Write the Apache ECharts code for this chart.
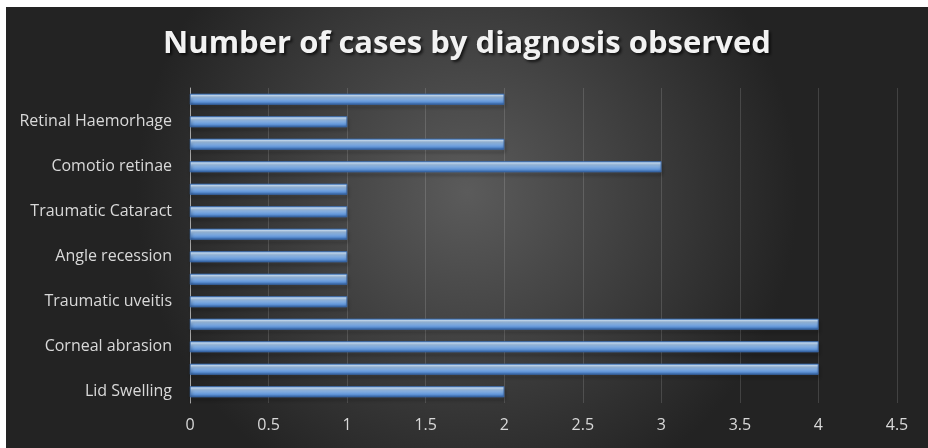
<!DOCTYPE html>
<html><head><meta charset="utf-8">
<script src="https://cdn.jsdelivr.net/npm/echarts@6/dist/echarts.min.js"></script>
<style>html,body{margin:0;padding:0;background:#fff;}#c{position:absolute;left:6px;top:7px;width:922px;height:441px;}</style>
</head><body><div id="c"></div>
<script>
const titleText = 'Number of cases by diagnosis observed';
const categories = ['Lid Swelling','Subconjunctival haemorrhage','Corneal abrasion','Hyphema','Traumatic uveitis','Traumatic mydriasis','Angle recession','Iridodialysis','Traumatic Cataract','Lens subluxation','Comotio retinae','Vitreous haemorrhage','Retinal Haemorhage','Globe rupture'];
const cases = [2,4,4,4,1,1,1,1,1,1,3,2,1,2];
const xTicks = {min:0,max:4.5,interval:0.5};

const chart = echarts.init(document.getElementById('c'));
chart.setOption({
  backgroundColor: {type:'radial',x:0.5,y:0.42,r:0.75,colorStops:[{offset:0,color:'#5b5b5b'},{offset:1,color:'#232323'}]},
  title:{text:titleText,left:'center',top:17,textStyle:{fontFamily:'Open Sans',fontWeight:'bold',fontSize:31,color:'#f2f2f2',textShadowColor:'rgba(0,0,0,0.7)',textShadowBlur:3,textShadowOffsetX:2,textShadowOffsetY:2}},
  grid:{left:184,right:31,top:81,bottom:45,containLabel:false},
  xAxis:{type:'value',min:xTicks.min,max:xTicks.max,interval:xTicks.interval,
    axisLine:{show:false},axisTick:{show:false},
    axisLabel:{color:'#d9d9d9',fontFamily:'Open Sans',fontSize:16,margin:14},
    splitLine:{show:true,lineStyle:{color:'rgba(255,255,255,0.14)',width:1}}},
  yAxis:{type:'category',data:categories,
    axisLine:{show:true,lineStyle:{color:'#a6a6a6',width:1}},axisTick:{show:false},
    axisLabel:{interval:1,color:'#d9d9d9',fontFamily:'Open Sans',fontSize:16,margin:18}},
  series:[{type:'bar',data:cases,barCategoryGap:'52%',
    itemStyle:{color:{type:'linear',x:0,y:0,x2:0,y2:1,colorStops:[
      {offset:0,color:'#6f9fdc'},{offset:0.15,color:'#c9e0f8'},{offset:0.4,color:'#94bdec'},{offset:0.75,color:'#5f93d6'},{offset:1,color:'#2e5a96'}]},
      borderColor:'#3a68a8',borderWidth:0.5,
      shadowColor:'rgba(0,0,0,0.65)',shadowBlur:3,shadowOffsetX:1,shadowOffsetY:3}}]
});
</script></body></html>
